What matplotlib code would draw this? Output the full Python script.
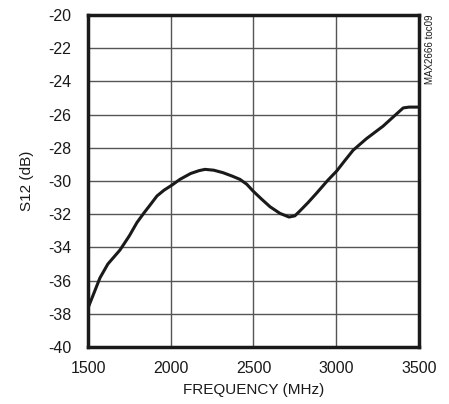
import matplotlib
matplotlib.use("Agg")
import matplotlib.pyplot as plt
import numpy as np

plt.rcParams['font.family'] = ['Liberation Sans', 'DejaVu Sans']
plt.rcParams['axes.unicode_minus'] = False

# curve
freq = [1500, 1530, 1572, 1620, 1693, 1750, 1796, 1840, 1875, 1917, 1960, 2007,
        2056, 2120, 2170, 2207, 2260, 2316, 2370, 2418, 2460, 2497, 2550, 2600,
        2660, 2715, 2750, 2781, 2830, 2880, 2950, 3003, 3050, 3102, 3183, 3283,
        3366, 3405, 3440, 3500]
s12 = [-37.65, -36.9, -35.84, -35.0, -34.16, -33.3, -32.5, -31.9, -31.45, -30.9,
       -30.55, -30.25, -29.9, -29.55, -29.38, -29.3, -29.35, -29.5, -29.7, -29.9,
       -30.2, -30.6, -31.1, -31.55, -31.95, -32.17, -32.1, -31.8, -31.3, -30.75,
       -29.95, -29.4, -28.8, -28.15, -27.45, -26.7, -25.95, -25.6, -25.55, -25.55]

x_ticks = [1500, 2000, 2500, 3000, 3500]
y_ticks = list(range(-40, -19, 2))

fig = plt.figure(figsize=(4.49, 4.04), dpi=100)
ax = fig.add_axes([0.196, 0.141, 0.737, 0.822])

ax.plot(freq, s12, color='#1a1a1a', linewidth=2.2, solid_joinstyle='round')

ax.set_xlim(1500, 3500)
ax.set_ylim(-40, -20)
ax.set_xticks(x_ticks)
ax.set_yticks(y_ticks)
ax.set_xticklabels([str(v) for v in x_ticks])
ax.set_yticklabels([str(v) for v in y_ticks])
ax.tick_params(length=0, labelsize=11.5, colors='#1a1a1a')
ax.tick_params(axis='x', pad=10)
ax.tick_params(axis='y', pad=12)
ax.grid(True, color='#555555', linewidth=1.0)
for sp in ax.spines.values():
    sp.set_linewidth(2.5)
    sp.set_color('#1a1a1a')

ax.set_xlabel("FREQUENCY (MHz)", fontsize=11, labelpad=5, color='#1a1a1a')
ax.set_ylabel("S12 (dB)", fontsize=11, labelpad=10, color='#1a1a1a')

fig.text(0.958, 0.963, "MAX2666 toc09", rotation=90, fontsize=7,
         ha='center', va='top', color='#1a1a1a')

fig.savefig("out.png", dpi=100)
